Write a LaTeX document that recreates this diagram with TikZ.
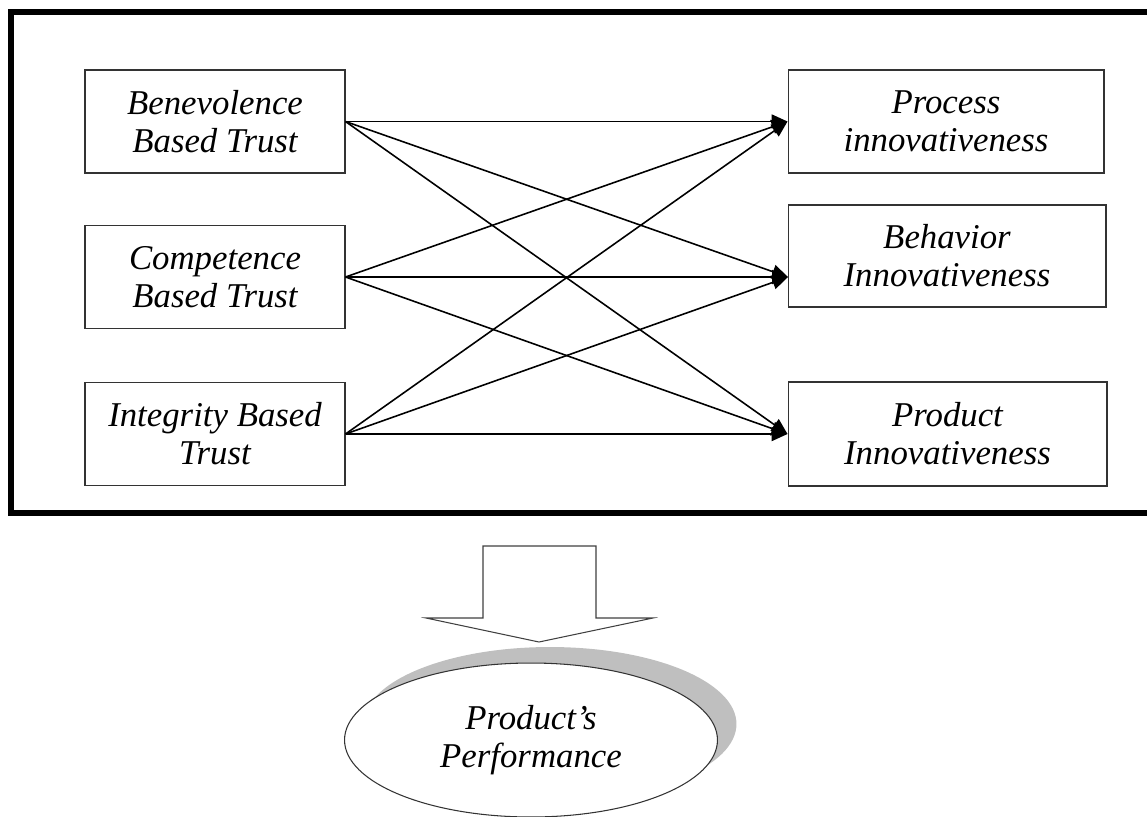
\documentclass[tikz,border=0pt]{standalone}
\usepackage{fontspec}
\setmainfont{Liberation Serif}
\usetikzlibrary{arrows.meta,shapes.geometric,shadows}
\tikzset{
  box/.style={draw=black!80, line width=0.6pt, align=center, inner sep=0pt,
    font=\fontsize{19.8}{21.6}\selectfont\itshape},
  conn/.style={line width=0.9pt, -{Triangle[length=9pt,width=8pt]}}
}

\begin{document}
\begin{tikzpicture}[x=0.02cm, y=-0.02cm]
  \useasboundingbox (0,0) rectangle (1147,816);
  \clip (0,0) rectangle (1147,816);
  % frame
  \draw [line width=3.4pt] (11,12) rectangle (1175,513);
  % nodes
  \node [box, minimum width=5.2cm, minimum height=2.06cm] (0) at (215,121.5) {Benevolence\\Based Trust};
  \node [box, minimum width=5.2cm, minimum height=2.06cm] (1) at (215,277) {Competence\\Based Trust};
  \node [box, minimum width=5.2cm, minimum height=2.06cm] (2) at (215,434) {Integrity Based\\Trust};
  \node [box, minimum width=6.32cm, minimum height=2.06cm] (3) at (946,121.5) {Process\\innovativeness};
  \node [box, minimum width=6.36cm, minimum height=2.04cm] (4) at (947,256) {Behavior\\Innovativeness};
  \node [box, minimum width=6.38cm, minimum height=2.08cm] (5) at (947.5,434) {Product\\Innovativeness};
  \coordinate (6) at (788,277);
  % edges
  \draw [conn] (0.east) to (3.west);
  \draw [conn] (0.east) to (6);
  \draw [conn] (0.east) to (5.west);
  \draw [conn] (1.east) to (3.west);
  \draw [conn] (1.east) to (6);
  \draw [conn] (1.east) to (5.west);
  \draw [conn] (2.east) to (3.west);
  \draw [conn] (2.east) to (6);
  \draw [conn] (2.east) to (5.west);
  % big arrow
  \draw [draw=black!75, line width=0.6pt, fill=white] (483,546) -- (596,546) -- (596,618) -- (653,618)
    -- (539,642) -- (426,618) -- (483,618) -- cycle;
  % result
  \node [box, ellipse, fill=white, minimum width=7.46cm, minimum height=3.08cm,
    drop shadow={shadow xshift=0.38cm, shadow yshift=0.32cm, fill=black!25, opacity=1}]
    (7) at (531,740) {Product's\\Performance};
\end{tikzpicture}
\end{document}
